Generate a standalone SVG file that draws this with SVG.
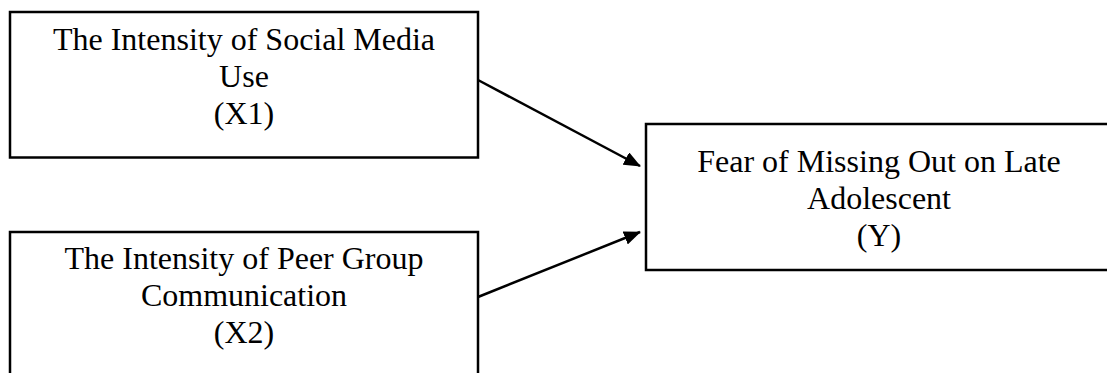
<svg xmlns="http://www.w3.org/2000/svg" width="1107" height="373" viewBox="0 0 1107 373">
<style>
.box{fill:#fff;stroke:#000;stroke-width:2.5}
.t{font-family:"Liberation Serif","Times New Roman",serif;font-size:32px;fill:#000;text-anchor:middle}
.c{stroke:#000;stroke-width:2.5;fill:none}
</style>
<defs>
<marker id="ah" viewBox="0 0 17 14" refX="16" refY="7" markerWidth="17" markerHeight="14" markerUnits="userSpaceOnUse" orient="auto">
<path d="M0,0 L17,7 L0,14 Z" fill="#000"/>
</marker>
</defs>
<rect width="1107" height="373" fill="#fff"/>
<g id="x1">
<rect class="box" x="10" y="12" width="468" height="145.5"/>
<text class="t" x="244" y="50">The Intensity of Social Media</text>
<text class="t" x="244" y="87">Use</text>
<text class="t" x="244" y="124">(X1)</text>
</g>
<g id="x2">
<rect class="box" x="10" y="232" width="468" height="150"/>
<text class="t" x="244" y="269">The Intensity of Peer Group</text>
<text class="t" x="244" y="306">Communication</text>
<text class="t" x="244" y="343">(X2)</text>
</g>
<g id="y">
<rect class="box" x="646" y="124" width="466" height="146"/>
<text class="t" x="879" y="172">Fear of Missing Out on Late</text>
<text class="t" x="879" y="209">Adolescent</text>
<text class="t" x="879" y="246">(Y)</text>
</g>
<g id="connectors">
<line class="c" x1="478" y1="80" x2="640" y2="166" marker-end="url(#ah)"/>
<line class="c" x1="478" y1="297" x2="640" y2="232" marker-end="url(#ah)"/>
</g>
</svg>
